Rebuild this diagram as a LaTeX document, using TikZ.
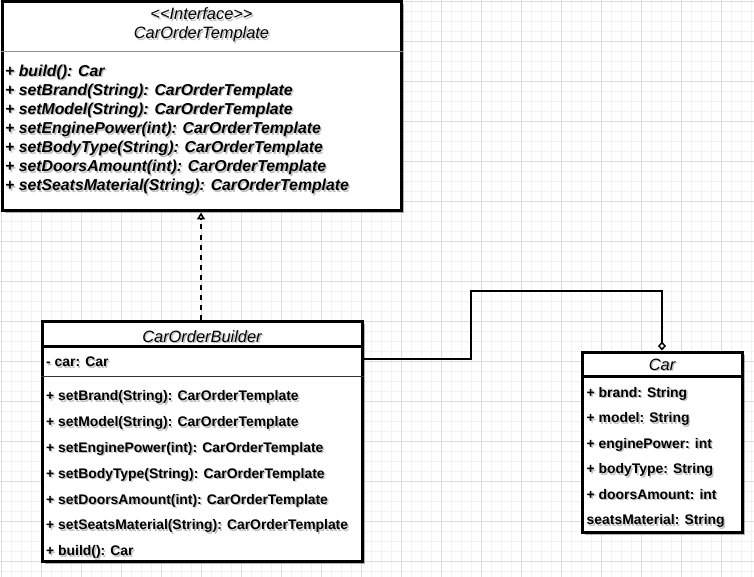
\documentclass[tikz,border=0pt]{standalone}
\usepackage{fontspec}
\setmainfont{Liberation Sans}
\usetikzlibrary{arrows.meta,shadows}
\definecolor{gridmajor}{RGB}{220,220,220}
\definecolor{gridminor}{RGB}{242,242,246}
\newcommand\shd[1]{\leavevmode\rlap{\kern1.4pt\raisebox{-1.4pt}{\textcolor{black!25}{#1}}}#1}
\tikzset{
  box/.style={draw=black, line width=3pt, fill=white, inner sep=0pt,
    drop shadow={shadow xshift=2.5pt, shadow yshift=-2.5pt, opacity=0.3, fill=black}},
  ifmethod/.style={anchor=base west, inner sep=0pt, font=\fontsize{15.8}{19}\selectfont\bfseries\itshape},
  member/.style={anchor=base west, inner sep=0pt, font=\fontsize{13.9}{16}\selectfont\bfseries},
  titletext/.style={anchor=base, inner sep=0pt, font=\fontsize{16.4}{19}\selectfont\itshape},
  thinrule/.style={line width=1pt},
  thickrule/.style={line width=3pt},
  conn/.style={line width=2pt},
}
\begin{document}
\begin{tikzpicture}[x=1pt, y=-1pt]
\useasboundingbox (0,0) rectangle (754,577);
\fill[white] (0,0) rectangle (754,577);
% grid
\foreach \i in {1,11,...,751} \draw[gridminor, line width=0.8pt] (\i,0) -- (\i,577);
\foreach \i in {1,11,...,571} \draw[gridminor, line width=0.8pt] (0,\i) -- (754,\i);
\foreach \i in {1,41,...,751} \draw[gridmajor, line width=0.9pt] (\i,0) -- (\i,577);
\foreach \i in {1,41,...,571} \draw[gridmajor, line width=0.9pt] (0,\i) -- (754,\i);

% Interface box
\node[box, minimum width=399pt, minimum height=209.5pt] (iface) at (201.5,106.25) {};
\draw[line width=1pt, black!45] (iface.west |- 0,51.5) -- (iface.east |- 0,51.5);
\node[titletext] (ifstereo) at (201.5,20) {\shd{<\kern0pt<Interface>\kern0pt>}};
\node[titletext] (ifname) at (201.5,39) {\shd{CarOrderTemplate}};
\node[ifmethod] (im1) at (5,76.4) {\shd{+ build(): Car}};
\node[ifmethod] (im2) at (5,95.5) {\shd{+ setBrand(String): CarOrderTemplate}};
\node[ifmethod] (im3) at (5,114.6) {\shd{+ setModel(String): CarOrderTemplate}};
\node[ifmethod] (im4) at (5,133.7) {\shd{+ setEnginePower(int): CarOrderTemplate}};
\node[ifmethod] (im5) at (5,152.8) {\shd{+ setBodyType(String): CarOrderTemplate}};
\node[ifmethod] (im6) at (5,171.9) {\shd{+ setDoorsAmount(int): CarOrderTemplate}};
\node[ifmethod] (im7) at (5,191.0) {\shd{+ setSeatsMaterial(String): CarOrderTemplate}};

% Builder box
\node[box, minimum width=320pt, minimum height=240pt] (builder) at (202,441) {};
\draw[thickrule] (builder.west |- 0,346.5) -- (builder.east |- 0,346.5);
\draw[thinrule, black!80] (builder.west |- 0,376.5) -- (builder.east |- 0,376.5);
\node[titletext] (bname) at (202,342) {\shd{CarOrderBuilder}};
\node[member] (bcar) at (46,366.7) {\shd{- car: Car}};
\node[member] (bm1) at (46,400.8) {\shd{+ setBrand(String): CarOrderTemplate}};
\node[member] (bm2) at (46,426.6) {\shd{+ setModel(String): CarOrderTemplate}};
\node[member] (bm3) at (46,452.4) {\shd{+ setEnginePower(int): CarOrderTemplate}};
\node[member] (bm4) at (46,478.2) {\shd{+ setBodyType(String): CarOrderTemplate}};
\node[member] (bm5) at (46,504.0) {\shd{+ setDoorsAmount(int): CarOrderTemplate}};
\node[member] (bm6) at (46,529.8) {\shd{+ setSeatsMaterial(String): CarOrderTemplate}};
\node[member] (bm7) at (46,555.6) {\shd{+ build(): Car}};

% Car box
\node[box, minimum width=160pt, minimum height=180pt] (car) at (662,442) {};
\draw[thickrule] (car.west |- 0,376.5) -- (car.east |- 0,376.5);
\node[titletext] (cname) at (662,370) {\shd{Car}};
\node[member] (ca1) at (586.5,397.3) {\shd{+ brand: String}};
\node[member] (ca2) at (586.5,422.8) {\shd{+ model: String}};
\node[member] (ca3) at (586.5,448.3) {\shd{+ enginePower: int}};
\node[member] (ca4) at (586.5,473.8) {\shd{+ bodyType: String}};
\node[member] (ca5) at (586.5,499.3) {\shd{+ doorsAmount: int}};
\node[member] (ca6) at (586.5,524.8) {\shd{seatsMaterial: String}};

% realization (dashed) builder -> interface
\draw[conn, dash pattern=on 5pt off 5pt, -{Triangle[open, length=7pt, width=8pt, line width=1.5pt]}]
  (builder.north -| 201,0) -- (iface.south -| 201,0);

% aggregation builder -> car
\coordinate (bend) at (471,291);
\draw[conn, -{Diamond[fill=white, length=9pt, width=8pt, line width=1.5pt]}]
  (builder.east |- 0,359) -| (bend) -| (car.north);
\end{tikzpicture}
\end{document}
